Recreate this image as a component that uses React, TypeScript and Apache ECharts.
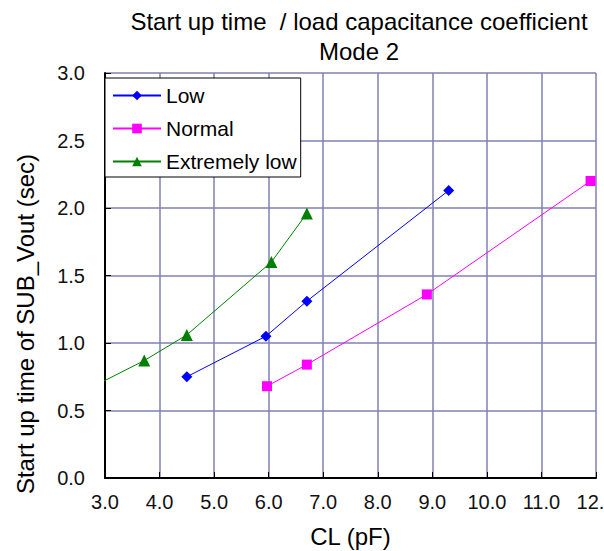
import React, { useEffect, useRef } from "react";
import * as echarts from "echarts";

const titleLines = ["Start up time  / load capacitance coefficient", "Mode 2"];
const xAxisName = "CL (pF)";
const yAxisName = "Start up time of SUB_Vout (sec)";

const lowX = [4.5, 5.95, 6.7, 9.3];
const lowY = [0.75, 1.05, 1.31, 2.13];
const normalX = [5.97, 6.7, 8.9, 11.9];
const normalY = [0.68, 0.84, 1.36, 2.2];
const extX = [2.5, 3.72, 4.5, 6.05, 6.7];
const extY = [0.62, 0.87, 1.06, 1.6, 1.96];

const seriesNames = ["Low", "Normal", "Extremely low"];
const seriesColors = ["#0000ff", "#ff00ff", "#008000"];
const seriesSymbols = ["diamond", "rect", "triangle"];
const seriesSizes = [11, 10, 12];

const FONT = "'Liberation Sans', Arial, sans-serif";

const zip = (xs: number[], ys: number[]) => xs.map((x, i) => [x, ys[i]]);

export default function App() {
  const ref = useRef<HTMLDivElement>(null);
  useEffect(() => {
    if (!ref.current) return;
    const chart = echarts.init(ref.current, undefined, { renderer: "svg" });
    const data = [zip(lowX, lowY), zip(normalX, normalY), zip(extX, extY)];
    chart.setOption({
      animation: false,
      backgroundColor: "#ffffff",
      title: {
        text: titleLines.join("\n"),
        left: 359,
        top: 6,
        padding: 0,
        textAlign: "center",
        textStyle: {
          fontFamily: FONT,
          fontSize: 24,
          fontWeight: "normal",
          color: "#000",
          lineHeight: 30,
        },
      },
      legend: {
        orient: "vertical",
        left: 105,
        top: 78,
        padding: [7, 4, 5, 7],
        itemGap: 12,
        itemWidth: 48,
        itemHeight: 12,
        backgroundColor: "#ffffff",
        borderColor: "#000",
        borderWidth: 1,
        borderRadius: 0,
        textStyle: { fontFamily: FONT, fontSize: 21, color: "#000" },
        data: seriesNames,
      },
      grid: {
        left: 105,
        right: 8,
        top: 73,
        bottom: 73,
        containLabel: false,
        outerBoundsMode: "none",
      },
      xAxis: {
        type: "value",
        min: 3,
        max: 12,
        interval: 1,
        name: xAxisName,
        nameLocation: "middle",
        nameGap: 46,
        nameTextStyle: { fontFamily: FONT, fontSize: 24, color: "#000" },
        axisLine: { onZero: false, lineStyle: { color: "#000", width: 2 } },
        axisTick: { inside: true, length: 6, lineStyle: { color: "#000", width: 1 } },
        axisLabel: {
          fontFamily: FONT,
          fontSize: 20,
          color: "#111",
          margin: 14,
          hideOverlap: false,
          formatter: (v: number) => v.toFixed(1),
        },
        splitLine: { show: true, lineStyle: { color: "#8080b4", width: 1.5 } },
      },
      yAxis: {
        type: "value",
        min: 0,
        max: 3,
        interval: 0.5,
        axisLine: { show: true, onZero: false, lineStyle: { color: "#000", width: 2 } },
        axisTick: { show: true, inside: true, length: 6, lineStyle: { color: "#000", width: 1 } },
        axisLabel: {
          fontFamily: FONT,
          fontSize: 20,
          color: "#111",
          margin: 20,
          formatter: (v: number) => v.toFixed(1),
        },
        splitLine: { show: true, lineStyle: { color: "#8080b4", width: 1.5 } },
      },
      graphic: [
        {
          type: "text",
          x: 25,
          y: 324,
          rotation: Math.PI / 2,
          style: {
            text: yAxisName,
            font: `24px ${FONT}`,
            fill: "#000",
            align: "center",
            verticalAlign: "middle",
          },
        },
      ],
      series: seriesNames.map((name, i) => ({
        name,
        type: "line",
        data: data[i],
        clip: true,
        symbol: seriesSymbols[i],
        symbolSize: seriesSizes[i],
        showAllSymbol: true,
        itemStyle: { color: seriesColors[i] },
        lineStyle: { color: seriesColors[i], width: 1 },
      })),
    });
    return () => chart.dispose();
  }, []);
  return (
    <div
      ref={ref}
      style={{ position: "absolute", left: 0, top: 0, width: 604, height: 551 }}
    />
  );
}
